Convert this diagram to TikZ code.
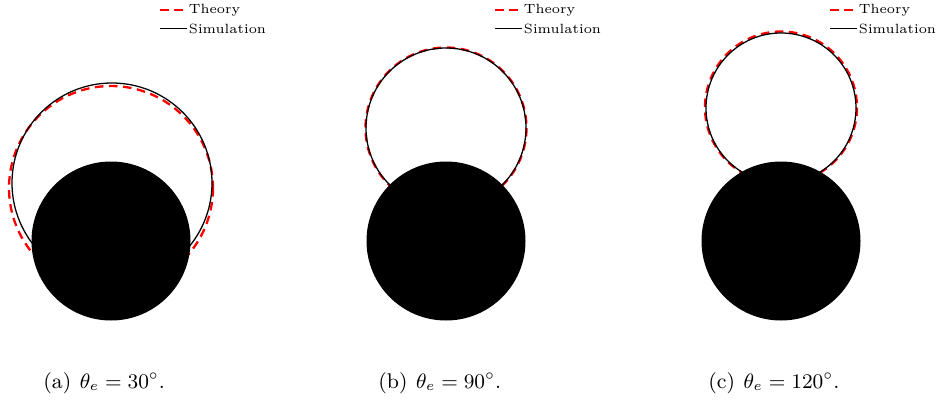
\documentclass[tikz,border=0pt]{standalone}
\begin{document}
\begin{tikzpicture}[x=0.4333pt,y=-0.4333pt,
  theory/.style={red, line width=1pt, dash pattern=on 3.7pt off 2.4pt},
  sim/.style={black, line width=0.55pt},
  diskfill/.style={fill=black},
  legtext/.style={font=\fontsize{5.8}{7}\selectfont, anchor=west, inner sep=0pt},
  captext/.style={font=\fontsize{9.2}{11}\selectfont, anchor=west, inner sep=0pt}]
\useasboundingbox (0,0) rectangle (937,403);
% panel (a)
\draw[theory] (111,188) circle[radius=102];
\draw[sim] (112,183) circle[radius=100];
\fill[diskfill] (111,241) circle[radius=79.5];
% panel (b)
\draw[theory] (446,128) circle[radius=80.5];
\draw[sim] (446,128) circle[radius=80];
\fill[diskfill] (446,241) circle[radius=79.5];
% panel (c)
\draw[theory] (781,107.5) circle[radius=76];
\draw[sim] (781,108) circle[radius=75];
\fill[diskfill] (781,241) circle[radius=79.5];
% legends
\foreach \o/\n in {0/a,335/b,670/c}{
  \coordinate (th1\n) at (160+\o,10);
  \coordinate (th2\n) at (187+\o,10);
  \coordinate (si1\n) at (160+\o,28.5);
  \coordinate (si2\n) at (187+\o,28.5);
  \draw[theory] (th1\n) -- (th2\n);
  \draw[sim] (si1\n) -- (si2\n);
  \node[legtext] (thtxt\n) at (188.5+\o,10) {Theory};
  \node[legtext] (sitxt\n) at (188.5+\o,28.5) {Simulation};
}
% captions
\node[captext] (capa) at (43,383) {(a)\hspace{0.4em}$\theta_e = 30^\circ$.};
\node[captext] (capb) at (378,383) {(b)\hspace{0.4em}$\theta_e = 90^\circ$.};
\node[captext] (capc) at (708,383) {(c)\hspace{0.4em}$\theta_e = 120^\circ$.};
\end{tikzpicture}
\end{document}
